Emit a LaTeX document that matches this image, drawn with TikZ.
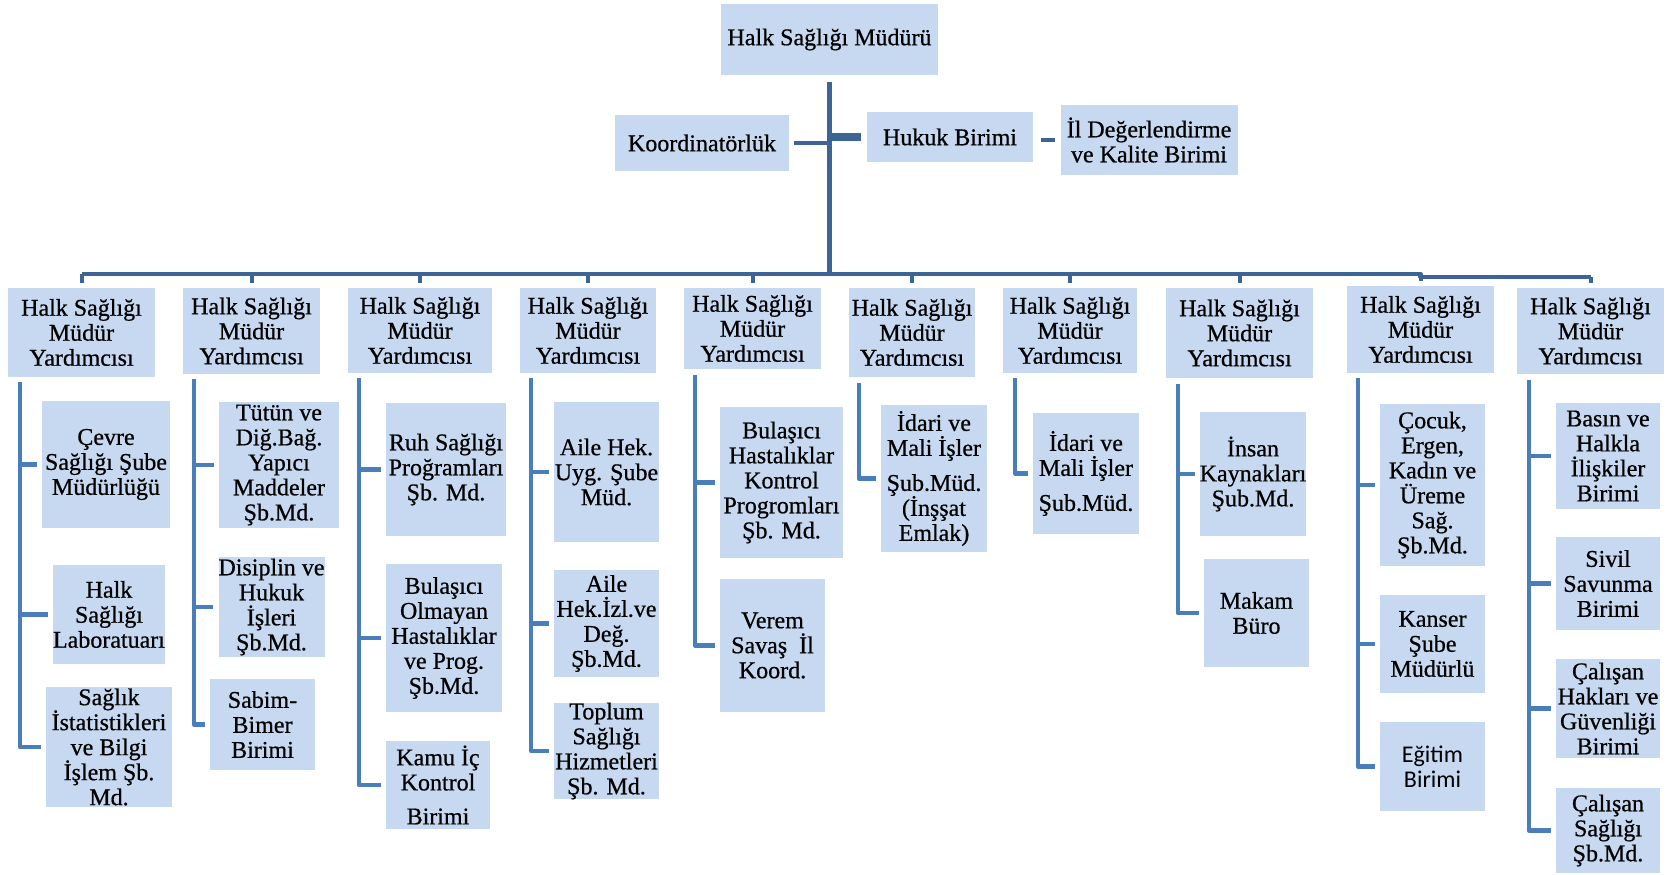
\documentclass[tikz,border=0pt]{standalone}
\usepackage{fontspec}
\setmainfont{Liberation Serif}[FakeBold=0.6]
\newfontfamily\calibrifont{Carlito}
\definecolor{boxfill}{RGB}{198,217,241}
\definecolor{trunkblue}{RGB}{60,100,150}
\definecolor{linkblue}{RGB}{74,126,187}
\begin{document}
\begin{tikzpicture}[x=1pt,y=-1pt,
  box/.style={fill=boxfill, draw=none, inner sep=0pt, align=center,
    font=\fontsize{24}{25}\selectfont, text=black},
  trunk/.style={draw=trunkblue, line width=4.5pt},
  drop/.style={draw=trunkblue, line width=4pt, shorten >=5pt},
  cline/.style={draw=linkblue, line width=4.5pt, line join=round, shorten >=5pt}]
\useasboundingbox (0,0) rectangle (1671,875);

% top level
\node[box, minimum width=217pt, minimum height=71pt] (top) at (829.5,39.5) {Halk Sağlığı Müdürü};
\node[box, minimum width=174pt, minimum height=56pt] (koord) at (702,143) {Koordinatörlük};
\node[box, minimum width=166pt, minimum height=50pt] (hukuk) at (950,137) {Hukuk Birimi};
\node[box, minimum width=177pt, minimum height=70pt] (il) at (1149,140) {İl Değerlendirme\\ve Kalite Birimi};

% heads
\node[box, minimum width=147pt, minimum height=89pt] (h1) at (81.5,332.5) {Halk Sağlığı\\Müdür\\Yardımcısı};
\node[box, minimum width=137pt, minimum height=86pt] (h2) at (251.5,331) {Halk Sağlığı\\Müdür\\Yardımcısı};
\node[box, minimum width=144pt, minimum height=85pt] (h3) at (420,330.5) {Halk Sağlığı\\Müdür\\Yardımcısı};
\node[box, minimum width=136pt, minimum height=85pt] (h4) at (588,330.5) {Halk Sağlığı\\Müdür\\Yardımcısı};
\node[box, minimum width=137pt, minimum height=81pt] (h5) at (752.5,328.5) {Halk Sağlığı\\Müdür\\Yardımcısı};
\node[box, minimum width=126pt, minimum height=89pt] (h6) at (912,332.5) {Halk Sağlığı\\Müdür\\Yardımcısı};
\node[box, minimum width=134pt, minimum height=85pt] (h7) at (1070,330.5) {Halk Sağlığı\\Müdür\\Yardımcısı};
\node[box, minimum width=147pt, minimum height=90pt] (h8) at (1239.5,333) {Halk Sağlığı\\Müdür\\Yardımcısı};
\node[box, minimum width=147pt, minimum height=87pt] (h9) at (1420.5,329.5) {Halk Sağlığı\\Müdür\\Yardımcısı};
\node[box, minimum width=147pt, minimum height=86pt] (h10) at (1590.5,331) {Halk Sağlığı\\Müdür\\Yardımcısı};

% children
\node[box, minimum width=128pt, minimum height=127pt] (c11) at (106,464.5) {Çevre\\Sağlığı Şube\\Müdürlüğü};
\node[box, minimum width=108pt, minimum height=99pt] (c12) at (109,614.5) {Halk\\Sağlığı\\Laboratuarı};
\node[box, minimum width=126pt, minimum height=120pt] (c13) at (109,747) {Sağlık\\İstatistikleri\\ve Bilgi\\İşlem Şb.\\Md.};

\node[box, minimum width=120pt, minimum height=126pt] (c21) at (279,465) {Tütün ve\\Diğ.Bağ.\\Yapıcı\\Maddeler\\Şb.Md.};
\node[box, minimum width=105pt, minimum height=100pt] (c22) at (271.5,607) {Disiplin ve\\Hukuk\\İşleri\\Şb.Md.};
\node[box, minimum width=105pt, minimum height=91pt] (c23) at (262.5,724.5) {Sabim-\\Bimer\\Birimi};

\node[box, minimum width=120pt, minimum height=133pt] (c31) at (446,469.5) {Ruh Sağlığı\\Proğramları\\Şb. Md.};
\node[box, minimum width=116pt, minimum height=148pt] (c32) at (444,638) {Bulaşıcı\\Olmayan\\Hastalıklar\\ve Prog.\\Şb.Md.};
\node[box, minimum width=104pt, minimum height=88pt] (c33) at (438,785) {Kamu İç\\Kontrol\\[9pt]Birimi};

\node[box, minimum width=105pt, minimum height=140pt] (c41) at (606.5,472) {Aile Hek.\\Uyg. Şube\\Müd.};
\node[box, minimum width=105pt, minimum height=107pt] (c42) at (606.5,623.5) {Aile\\Hek.İzl.ve\\Değ.\\Şb.Md.};
\node[box, minimum width=105pt, minimum height=90pt] (c43) at (606.5,751) {Toplum\\Sağlığı\\Hizmetleri\\Şb. Md.};

\node[box, minimum width=123pt, minimum height=151pt] (c51) at (781.5,482.5) {Bulaşıcı\\Hastalıklar\\Kontrol\\Progromları\\Şb. Md.};
\node[box, minimum width=105pt, minimum height=133pt] (c52) at (772.5,645.5) {Verem\\Savaş~~İl\\Koord.};

\node[box, minimum width=106pt, minimum height=147pt] (c61) at (934,478.5) {İdari ve\\Mali İşler\\[10pt]Şub.Müd.\\(İnşşat\\Emlak)};

\node[box, minimum width=106pt, minimum height=121pt] (c71) at (1086,473.5) {İdari ve\\Mali İşler\\[10pt]Şub.Müd.};

\node[box, minimum width=104pt, minimum height=124pt] (c81) at (1253,474) {İnsan\\Kaynakları\\Şub.Md.};
\node[box, minimum width=105pt, minimum height=108pt] (c82) at (1256.5,613) {Makam\\Büro};

\node[box, minimum width=105pt, minimum height=162pt] (c91) at (1432.5,485) {Çocuk,\\Ergen,\\Kadın ve\\Üreme\\Sağ.\\Şb.Md.};
\node[box, minimum width=105pt, minimum height=98pt] (c92) at (1432.5,644) {Kanser\\Şube\\Müdürlü};
\node[box, minimum width=105pt, minimum height=89pt, font=\calibrifont\fontsize{24}{25}\selectfont] (c93) at (1432.5,766.5) {Eğitim\\Birimi};

\node[box, minimum width=104pt, minimum height=106pt] (c101) at (1608,456) {Basın ve\\Halkla\\İlişkiler\\Birimi};
\node[box, minimum width=104pt, minimum height=93pt] (c102) at (1608,583.5) {Sivil\\Savunma\\Birimi};
\node[box, minimum width=104pt, minimum height=99pt] (c103) at (1608,708.5) {Çalışan\\Hakları ve\\Güvenliği\\Birimi};
\node[box, minimum width=104pt, minimum height=85pt] (c104) at (1608,830.5) {Çalışan\\Sağlığı\\Şb.Md.};

% top connectors
\coordinate (busL) at (81.5,274);
\coordinate (busK) at (1420.5,274);
\coordinate (busR) at (1590.5,277);
\draw[trunk, shorten <=7pt] (top.south) -- (top.south |- busL);
\draw[trunk, line width=4pt, shorten <=5pt] (koord.east) -- (koord.east -| top.south);
\draw[trunk, line width=8pt, shorten >=6pt] (top.south |- hukuk.west) -- (hukuk.west);
\draw[trunk, line width=4pt, shorten <=8pt, shorten >=5pt] (hukuk.east |- il.west) -- (il.west);

% bus
\draw[trunk, line join=round] (busL) -- (busK) -- (busK |- busR) -- (busR);
\foreach \h in {h1,h2,h3,h4,h5,h6,h7,h8,h9} {
  \draw[drop] (\h.north |- busL) -- (\h.north);
}
\draw[drop] (busR) -- (h10.north);

% spines
\coordinate (s1) at (20,382);
\coordinate (s2) at (194,379);
\coordinate (s3) at (359,378);
\coordinate (s4) at (531,378);
\coordinate (s5) at (695,375);
\coordinate (s6) at (859,383);
\coordinate (s7) at (1015,378);
\coordinate (s8) at (1178,384);
\coordinate (s9) at (1358,378);
\coordinate (s10) at (1529,380);

\draw[cline] (s1) |- (c13.west);
\draw[cline] (s1 |- c11.west) -- (c11.west);
\draw[cline] (s1 |- c12.west) -- (c12.west);

\draw[cline] (s2) |- (c23.west);
\draw[cline] (s2 |- c21.west) -- (c21.west);
\draw[cline] (s2 |- c22.west) -- (c22.west);

\draw[cline] (s3) |- (c33.west);
\draw[cline] (s3 |- c31.west) -- (c31.west);
\draw[cline] (s3 |- c32.west) -- (c32.west);

\draw[cline] (s4) |- (c43.west);
\draw[cline] (s4 |- c41.west) -- (c41.west);
\draw[cline] (s4 |- c42.west) -- (c42.west);

\draw[cline] (s5) |- (c52.west);
\draw[cline] (s5 |- c51.west) -- (c51.west);

\draw[cline] (s6) |- (c61.west);

\draw[cline] (s7) |- (c71.west);

\draw[cline] (s8) |- (c82.west);
\draw[cline] (s8 |- c81.west) -- (c81.west);

\draw[cline] (s9) |- (c93.west);
\draw[cline] (s9 |- c91.west) -- (c91.west);
\draw[cline] (s9 |- c92.west) -- (c92.west);

\draw[cline] (s10) |- (c104.west);
\draw[cline] (s10 |- c101.west) -- (c101.west);
\draw[cline] (s10 |- c102.west) -- (c102.west);
\draw[cline] (s10 |- c103.west) -- (c103.west);
\end{tikzpicture}
\end{document}
